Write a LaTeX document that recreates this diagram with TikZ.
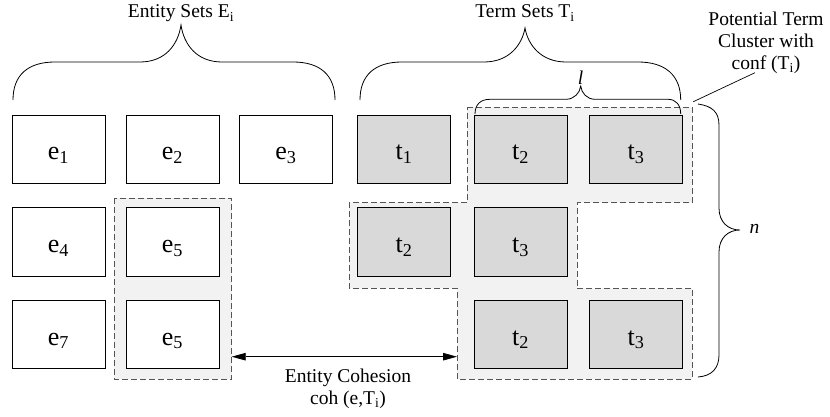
\documentclass[tikz,border=0pt]{standalone}
\usepackage{fontspec}
\setmainfont{Liberation Serif}
\usetikzlibrary{arrows.meta}
\definecolor{tgray}{HTML}{D9D9D9}
\definecolor{rgray}{HTML}{F2F2F2}
\definecolor{dgray}{HTML}{555555}
\begin{document}
\begin{tikzpicture}[x=1pt,y=-1pt,
  ebox/.style={draw=black,line width=0.8pt,fill=white,minimum width=93pt,minimum height=68.5pt,inner sep=0pt,text height=21pt,text depth=0pt,font=\fontsize{26}{30}\selectfont},
  tbox/.style={ebox,fill=tgray},
  region/.style={draw=dgray,fill=rgray,line width=0.8pt,dash pattern=on 6pt off 3pt},
  brace/.style={draw=black,line width=0.8pt},
  lbl/.style={font=\fontsize{19.5}{22}\selectfont,inner sep=0pt,align=center}]
\useasboundingbox (0,0) rectangle (830,417);
% regions
\path[region] (114,198.3) rectangle (231.7,379.3);
\path[region] (467,107.3) -- (692.3,107.3) -- (692.3,202.7) -- (577,202.7) -- (577,288.3) -- (692.3,288.3) -- (692.3,379) -- (457,379) -- (457,288.3) -- (349,288.3) -- (349,202.7) -- (467,202.7) -- cycle;
\coordinate (eregion) at (231.7,356.7);
\coordinate (tregion) at (457,356.7);
\coordinate (clcorner) at (693.3,101.7);
% entity boxes
\node[ebox] (e1) at (58.5,149.5) {e\textsubscript{1}};
\node[ebox] (e2) at (172.5,149.5) {e\textsubscript{2}};
\node[ebox] (e3) at (286,149.5) {e\textsubscript{3}};
\node[ebox] (e4) at (58.5,242) {e\textsubscript{4}};
\node[ebox] (e5a) at (172.5,242) {e\textsubscript{5}};
\node[ebox] (e7) at (58.5,334.5) {e\textsubscript{7}};
\node[ebox] (e5b) at (172.5,334.5) {e\textsubscript{5}};
% term boxes
\node[tbox] (t1) at (404,149.5) {t\textsubscript{1}};
\node[tbox] (t2a) at (520.5,149.5) {t\textsubscript{2}};
\node[tbox] (t3a) at (636,149.5) {t\textsubscript{3}};
\node[tbox] (t2b) at (404,242) {t\textsubscript{2}};
\node[tbox] (t3b) at (520.5,242) {t\textsubscript{3}};
\node[tbox] (t2c) at (520.5,334.5) {t\textsubscript{2}};
\node[tbox] (t3c) at (636,334.5) {t\textsubscript{3}};
% arrow
\draw[line width=0.8pt,{Triangle[length=14pt,width=7.5pt]}-{Triangle[length=14pt,width=7.5pt]}] (eregion) -- (tregion);
\node[lbl] (coh) at (348,389) {Entity Cohesion\\coh (e,T\textsubscript{i})};
% braces
\draw[brace] (13,100) .. controls (13,75) and (28,62) .. (55,62) -- (140,62) .. controls (165,62) and (178,45) .. (181,25) .. controls (184,45) and (197,62) .. (222,62) -- (293,62) .. controls (320,62) and (335,75) .. (335,100);
\node[lbl,anchor=base] (es) at (181,18) {Entity Sets E\textsubscript{i}};
\draw[brace] (360,100) .. controls (360,75) and (375,62) .. (402,62) -- (484,62) .. controls (509,62) and (522,45) .. (525,28) .. controls (528,45) and (541,62) .. (566,62) -- (638,62) .. controls (665,62) and (680.7,75) .. (680.7,100);
\node[lbl,anchor=base] (ts) at (525,18) {Term Sets T\textsubscript{i}};
\draw[brace] (475,114) .. controls (475,105) and (480,99.3) .. (490,99.3) -- (566,99.3) .. controls (574,99.3) and (580,93) .. (580.7,86) .. controls (581.4,93) and (587,99.3) .. (595,99.3) -- (668,99.3) .. controls (676,99.3) and (680.7,105) .. (680.7,114);
\node[lbl,anchor=south,inner sep=1.5pt] (ll) at (580.7,86) {\itshape l};
\draw[brace] (698,104) .. controls (712,106) and (719,112) .. (719,125) -- (719,208) .. controls (719,222) and (728,230) .. (740,230) .. controls (728,230) and (719,238) .. (719,252) -- (719,355) .. controls (719,368) and (712,376) .. (698,377);
\node[lbl] (nn) at (754.5,229) {\itshape n};
% cluster label
\node[lbl] (cl) at (766,43) {Potential Term\\Cluster with\\conf (T\textsubscript{i})};
\coordinate (clend) at (755,72.7);
\draw[line width=0.7pt] (clcorner) -- (clend);
\end{tikzpicture}
\end{document}
